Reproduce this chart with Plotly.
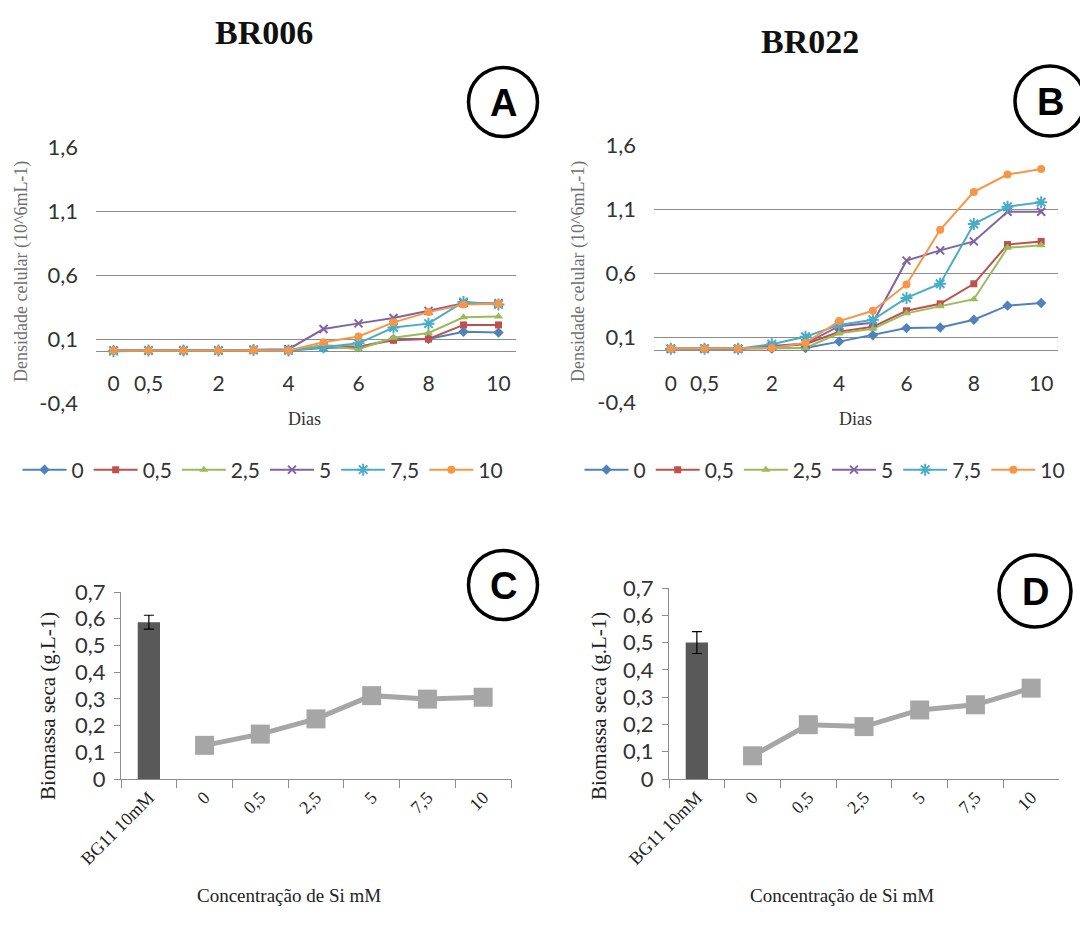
import plotly.graph_objects as go

# ---------------- data ----------------
days = ["0", "0,5", "1", "2", "3", "4", "5", "6", "7", "8", "9", "10"]
day_ticks = ["0", "0,5", "2", "4", "6", "8", "10"]
series_names = ["0", "0,5", "2,5", "5", "7,5", "10"]

br006_0 = [0.01, 0.01, 0.01, 0.01, 0.015, 0.01, 0.03, 0.035, 0.10, 0.10, 0.157, 0.15]
br006_05 = [0.01, 0.01, 0.01, 0.01, 0.015, 0.01, 0.05, 0.04, 0.09, 0.10, 0.21, 0.21]
br006_25 = [0.01, 0.01, 0.01, 0.01, 0.015, 0.01, 0.05, 0.02, 0.11, 0.147, 0.27, 0.275]
br006_5 = [0.01, 0.01, 0.01, 0.01, 0.015, 0.02, 0.178, 0.222, 0.264, 0.32, 0.38, 0.38]
br006_75 = [0.005, 0.01, 0.01, 0.01, 0.015, 0.01, 0.035, 0.066, 0.19, 0.22, 0.39, 0.37]
br006_10 = [0.01, 0.01, 0.01, 0.01, 0.015, 0.01, 0.075, 0.12, 0.23, 0.31, 0.37, 0.375]

br022_0 = [0.015, 0.015, 0.015, 0.015, 0.02, 0.07, 0.12, 0.175, 0.18, 0.24, 0.35, 0.37]
br022_05 = [0.015, 0.015, 0.015, 0.03, 0.05, 0.147, 0.185, 0.31, 0.364, 0.52, 0.825, 0.85]
br022_25 = [0.015, 0.015, 0.015, 0.02, 0.02, 0.135, 0.17, 0.29, 0.345, 0.40, 0.80, 0.82]
br022_5 = [0.015, 0.015, 0.015, 0.035, 0.055, 0.19, 0.216, 0.70, 0.78, 0.85, 1.08, 1.08]
br022_75 = [0.015, 0.015, 0.015, 0.05, 0.108, 0.20, 0.24, 0.41, 0.52, 0.985, 1.12, 1.155]
br022_10 = [0.015, 0.015, 0.015, 0.02, 0.06, 0.23, 0.31, 0.515, 0.94, 1.235, 1.37, 1.413]

density_ticks = [-0.4, 0.1, 0.6, 1.1, 1.6]
density_ticktext = ["-0,4", "0,1", "0,6", "1,1", "1,6"]

conc_categories = ["BG11 10mM", "0", "0,5", "2,5", "5", "7,5", "10"]
si_levels = ["0", "0,5", "2,5", "5", "7,5", "10"]
control_label = ["BG11 10mM"]

br006_control = [0.587]
br006_control_err = [0.026]
br006_biomass = [0.126, 0.168, 0.225, 0.312, 0.299, 0.306]

br022_control = [0.50]
br022_control_err = [0.04]
br022_biomass = [0.085, 0.199, 0.192, 0.253, 0.272, 0.333]

biomass_ticks = [0, 0.1, 0.2, 0.3, 0.4, 0.5, 0.6, 0.7]
biomass_ticktext = ["0", "0,1", "0,2", "0,3", "0,4", "0,5", "0,6", "0,7"]

# ---------------- styling ----------------
W, H = 1080, 937
colors = ["#4F81BD", "#C0504D", "#9BBB59", "#8064A2", "#4BACC6", "#F79646"]
symbols_a = ["diamond", "square", "triangle-up", "x-thin-open", "asterisk-open", "circle"]
symbols_b = ["diamond", "square", "triangle-up", "x-thin-open", "asterisk-open", "circle"]
sizes = [8, 7, 8, 8, 10, 8]
GRID = "#8C8C8C"
SANS = "Lato, 'Open Sans', sans-serif"
SERIF = "'Liberation Serif', 'Times New Roman', serif"


def px_x(px):
    return px / W


def px_y(py):
    return 1 - py / H


fig = go.Figure()

setA = [br006_0, br006_05, br006_25, br006_5, br006_75, br006_10]
setB = [br022_0, br022_05, br022_25, br022_5, br022_75, br022_10]

for i, (name, vals) in enumerate(zip(series_names, setA)):
    fig.add_trace(go.Scatter(
        x=days, y=vals, mode="lines+markers", name=name,
        line=dict(color=colors[i], width=2),
        marker=dict(symbol=symbols_a[i], size=sizes[i], color=colors[i],
                    line=dict(color=colors[i], width=2 if "open" in symbols_a[i] else 0)),
        xaxis="x", yaxis="y", legend="legend"))

for i, (name, vals) in enumerate(zip(series_names, setB)):
    fig.add_trace(go.Scatter(
        x=days, y=vals, mode="lines+markers", name=name,
        line=dict(color=colors[i], width=2),
        marker=dict(symbol=symbols_b[i], size=sizes[i], color=colors[i],
                    line=dict(color=colors[i], width=2 if "open" in symbols_b[i] else 0)),
        xaxis="x2", yaxis="y2", legend="legend2"))

# biomass panels
for (ctrl, err, bio, xa, ya) in [
    (br006_control, br006_control_err, br006_biomass, "x3", "y3"),
    (br022_control, br022_control_err, br022_biomass, "x4", "y4"),
]:
    fig.add_trace(go.Bar(
        x=control_label, y=ctrl, width=0.4, marker=dict(color="#595959", line=dict(width=0)),
        error_y=dict(type="data", array=err, visible=True, color="black", thickness=1.2, width=5),
        xaxis=xa, yaxis=ya, showlegend=False))
    fig.add_trace(go.Scatter(
        x=si_levels, y=bio, mode="lines+markers",
        line=dict(color="#A6A6A6", width=5),
        marker=dict(symbol="square", size=19, color="#A6A6A6"),
        xaxis=xa, yaxis=ya, showlegend=False))

# ---------------- axes ----------------
def density_axes(xdom, ydom, label_py):
    xa = dict(domain=xdom, type="category", categoryorder="array", categoryarray=days,
              range=[-0.5, 11.5], tickvals=day_ticks, ticktext=day_ticks,
              showgrid=False, zeroline=False, showline=False, ticks="",
              anchor="free", position=px_y(label_py),
              tickfont=dict(family=SANS, size=21, color="#333333"))
    ya = dict(domain=ydom, range=[-0.4, 1.6], tickvals=density_ticks, ticktext=density_ticktext,
              showgrid=True, gridcolor=GRID, gridwidth=1,
              zeroline=True, zerolinecolor=GRID, zerolinewidth=1,
              showline=False, ticks="", ticklabelstandoff=17,
              tickfont=dict(family=SANS, size=22, color="#333333"))
    return xa, ya


def biomass_axes(xdom, ydom):
    xa = dict(domain=xdom, type="category", categoryorder="array", categoryarray=conc_categories,
              range=[-0.5, 6.5], tickson="boundaries", ticks="outside", ticklen=8,
              tickcolor=GRID, showline=True, linecolor=GRID, linewidth=1,
              showgrid=False, zeroline=False, tickangle=-45,
              tickfont=dict(family=SERIF, size=18, color="#222222"))
    ya = dict(domain=ydom, range=[0, 0.7], tickvals=biomass_ticks, ticktext=biomass_ticktext,
              showgrid=False, zeroline=False, showline=True, linecolor=GRID, linewidth=1,
              ticks="outside", ticklen=6, tickcolor=GRID, ticklabelstandoff=4,
              tickfont=dict(family=SANS, size=22, color="#333333"))
    return xa, ya


xa1, ya1 = density_axes([px_x(96), px_x(516)], [px_y(403), px_y(147)], 369)
xa2, ya2 = density_axes([px_x(654), px_x(1058)], [px_y(402), px_y(145)], 369)
xa3, ya3 = biomass_axes([px_x(121), px_x(511)], [px_y(779), px_y(592)])
xa4, ya4 = biomass_axes([px_x(669), px_x(1059)], [px_y(779), px_y(588)])

ya1["anchor"] = "x"
ya2["anchor"] = "x2"
xa3["anchor"] = "y3"
ya3["anchor"] = "x3"
xa4["anchor"] = "y4"
ya4["anchor"] = "x4"

legend_common = dict(orientation="h", xanchor="center", yanchor="middle",
                     font=dict(family=SANS, size=21, color="#333333"),
                     bgcolor="rgba(0,0,0,0)", itemclick=False, itemwidth=44)

fig.update_layout(
    width=W, height=H, autosize=False,
    margin=dict(l=0, r=0, t=0, b=0, autoexpand=False),
    paper_bgcolor="white", plot_bgcolor="white",
    xaxis=xa1, yaxis=ya1, xaxis2=xa2, yaxis2=ya2,
    xaxis3=xa3, yaxis3=ya3, xaxis4=xa4, yaxis4=ya4,
    legend=dict(x=px_x(263), y=px_y(470), **legend_common),
    legend2=dict(x=px_x(825), y=px_y(470), **legend_common),
    bargap=0.6,
)

# ---------------- text ----------------
ann = []


def text(x, y, s, size, family, color="#222222", angle=0, bold=False):
    if bold:
        s = "<b>" + s + "</b>"
    ann.append(dict(x=px_x(x), y=px_y(y), xref="paper", yref="paper", text=s,
                    showarrow=False, textangle=angle, xanchor="center", yanchor="middle",
                    font=dict(family=family, size=size, color=color)))


text(264, 32, "BR006", 34, SERIF, "#111111", bold=True)
text(810, 42, "BR022", 34, SERIF, "#111111", bold=True)
text(304, 419, "Dias", 18, SERIF, "#333333")
text(855, 419, "Dias", 18, SERIF, "#333333")
text(21, 272, "Densidade celular (10^6mL-1)", 18, SERIF, "#707070", angle=-90)
text(578, 272, "Densidade celular (10^6mL-1)", 18, SERIF, "#707070", angle=-90)
text(48, 706, "Biomassa seca (g.L-1)", 21, SERIF, "#222222", angle=-90)
text(599, 706, "Biomassa seca (g.L-1)", 21, SERIF, "#222222", angle=-90)
text(289, 895, "Concentração de Si mM", 19, SERIF, "#222222")
text(842, 895, "Concentração de Si mM", 19, SERIF, "#222222")

shapes = []
for (cx, cy, d, letter) in [(503, 102, 69, "A"), (1050, 101, 70, "B"),
                            (503, 585, 69, "C"), (1035, 591, 72, "D")]:
    shapes.append(dict(type="circle", xref="paper", yref="paper",
                       x0=px_x(cx - d / 2), x1=px_x(cx + d / 2),
                       y0=px_y(cy + d / 2), y1=px_y(cy - d / 2),
                       line=dict(color="black", width=3.5)))
    ann.append(dict(x=px_x(cx), y=px_y(cy + 1), xref="paper", yref="paper", text="<b>" + letter + "</b>",
                    showarrow=False, xanchor="center", yanchor="middle",
                    font=dict(family="'Liberation Sans', Arial, sans-serif", size=38, color="black")))

fig.update_layout(annotations=ann, shapes=shapes)

fig.write_html("out.html", config={"displayModeBar": False},
               post_script="document.body.style.margin='0';document.body.style.overflow='hidden';")
